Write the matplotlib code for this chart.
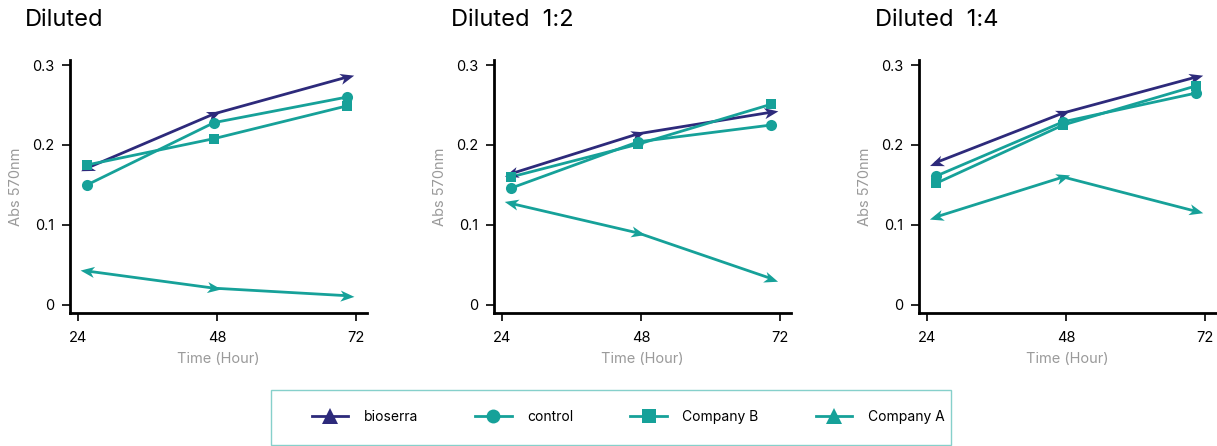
import matplotlib
matplotlib.use("Agg")
import matplotlib.pyplot as plt
from matplotlib.path import Path
from matplotlib.markers import MarkerStyle
from matplotlib.transforms import Affine2D
from matplotlib.lines import Line2D
from matplotlib.patches import Rectangle
import numpy as np

plt.rcParams['font.family'] = ['Inter', 'Roboto', 'DejaVu Sans']

# ---- data ----
panel_titles = ["Diluted", "Diluted  1:2", "Diluted  1:4"]
series_names = ["bioserra", "control", "Company B", "Company A"]
time_points = [25.5, 47.5, 70.5]
x_ticks = [24, 48, 72]
y_ticks = [0, 0.1, 0.2, 0.3]
y_ticklabels = ["0", "0.1", "0.2", "0.3"]

bioserra_vals = [[0.171, 0.239, 0.285], [0.164, 0.214, 0.241], [0.178, 0.240, 0.285]]
control_vals = [[0.150, 0.228, 0.260], [0.146, 0.204, 0.225], [0.161, 0.229, 0.265]]
company_b_vals = [[0.175, 0.208, 0.249], [0.160, 0.201, 0.251], [0.152, 0.225, 0.274]]
company_a_vals = [[0.0425, 0.021, 0.0116], [0.127, 0.090, 0.033], [0.110, 0.160, 0.117]]

NAVY = "#2d2a7b"
TEAL = "#16a199"
GRAY = "#9a9a9a"

series_vals = [bioserra_vals, control_vals, company_b_vals, company_a_vals]
series_colors = [NAVY, TEAL, TEAL, TEAL]
series_markers = ["arrow", "o", "s", "arrow"]

W, H = 1217, 446
fig = plt.figure(figsize=(W / 100, H / 100), dpi=100)

arrow_path = Path([(1.0, 0.0), (-1.0, 0.8), (-0.45, 0.0), (-1.0, -0.8), (1.0, 0.0)],
                  [Path.MOVETO, Path.LINETO, Path.LINETO, Path.LINETO, Path.CLOSEPOLY])

spine_x = [70, 494, 919]
title_x = [25, 451, 875]
ax_w = 297
top_px, bot_px = 60, 313

for p in range(3):
    ax = fig.add_axes([spine_x[p] / W, (H - bot_px) / H, ax_w / W, (bot_px - top_px) / H])
    ax.set_xlim(22.6, 73.9)
    ax.set_ylim(-0.01, 0.30625)
    for s in ["top", "right"]:
        ax.spines[s].set_visible(False)
    for s in ["left", "bottom"]:
        ax.spines[s].set_linewidth(2.0)
        ax.spines[s].set_color("black")
    ax.set_xticks(x_ticks)
    ax.set_xticklabels([str(t) for t in x_ticks])
    ax.set_yticks(y_ticks)
    ax.set_yticklabels(y_ticklabels)
    ax.tick_params(axis="x", length=6, width=1.2, pad=7, labelsize=10.5, colors="black")
    ax.tick_params(axis="y", length=6, width=1.2, pad=5, labelsize=10.5, colors="black")
    ax.set_ylabel("Abs 570nm", color=GRAY, fontsize=10.5)
    ax.yaxis.set_label_coords(-47 / ax_w, 0.5)
    ax.set_xlabel("Time (Hour)", color=GRAY, fontsize=10.5)
    ax.xaxis.set_label_coords(0.5, -0.155)
    fig.text(title_x[p] / W, 1 - 20 / H, panel_titles[p], fontsize=17, ha="left", va="center")

    for vals, col, mk in zip(series_vals, series_colors, series_markers):
        y = vals[p]
        ax.plot(time_points, y, color=col, lw=2.0, zorder=2, solid_capstyle="round")
        if mk == "arrow":
            pts = ax.transData.transform(np.column_stack([time_points, y]))
            for i in range(len(time_points)):
                if i == 0:
                    d = pts[0] - pts[1]
                else:
                    d = pts[i] - pts[i - 1]
                ang = np.degrees(np.arctan2(d[1], d[0]))
                ms = MarkerStyle(arrow_path, transform=Affine2D().rotate_deg(ang))
                ax.plot([time_points[i]], [y[i]], linestyle="none", marker=ms,
                        markersize=10, color=col, markeredgewidth=0, zorder=3)
        else:
            ax.plot(time_points, y, linestyle="none", marker=mk,
                    markersize=8 if mk == "o" else 7, color=col,
                    markeredgewidth=0, zorder=3)

# legend box
fig.patches.append(Rectangle((271 / W, 1 / H), 680 / W, 55 / H, transform=fig.transFigure,
                             fill=False, edgecolor="#86d0cb", linewidth=1.0))
handles = [
    Line2D([], [], color=NAVY, lw=2.0, marker="^", markersize=12, markeredgewidth=0),
    Line2D([], [], color=TEAL, lw=2.0, marker="o", markersize=10, markeredgewidth=0),
    Line2D([], [], color=TEAL, lw=2.0, marker="s", markersize=10, markeredgewidth=0),
    Line2D([], [], color=TEAL, lw=2.0, marker="^", markersize=12, markeredgewidth=0),
]
fig.legend(handles, series_names, loc="center", bbox_to_anchor=(628 / W, 1 - 417 / H),
           ncol=4, frameon=False, fontsize=10, handlelength=2.65, handletextpad=1.1,
           columnspacing=4.1)

fig.savefig("out.png", dpi=100)
